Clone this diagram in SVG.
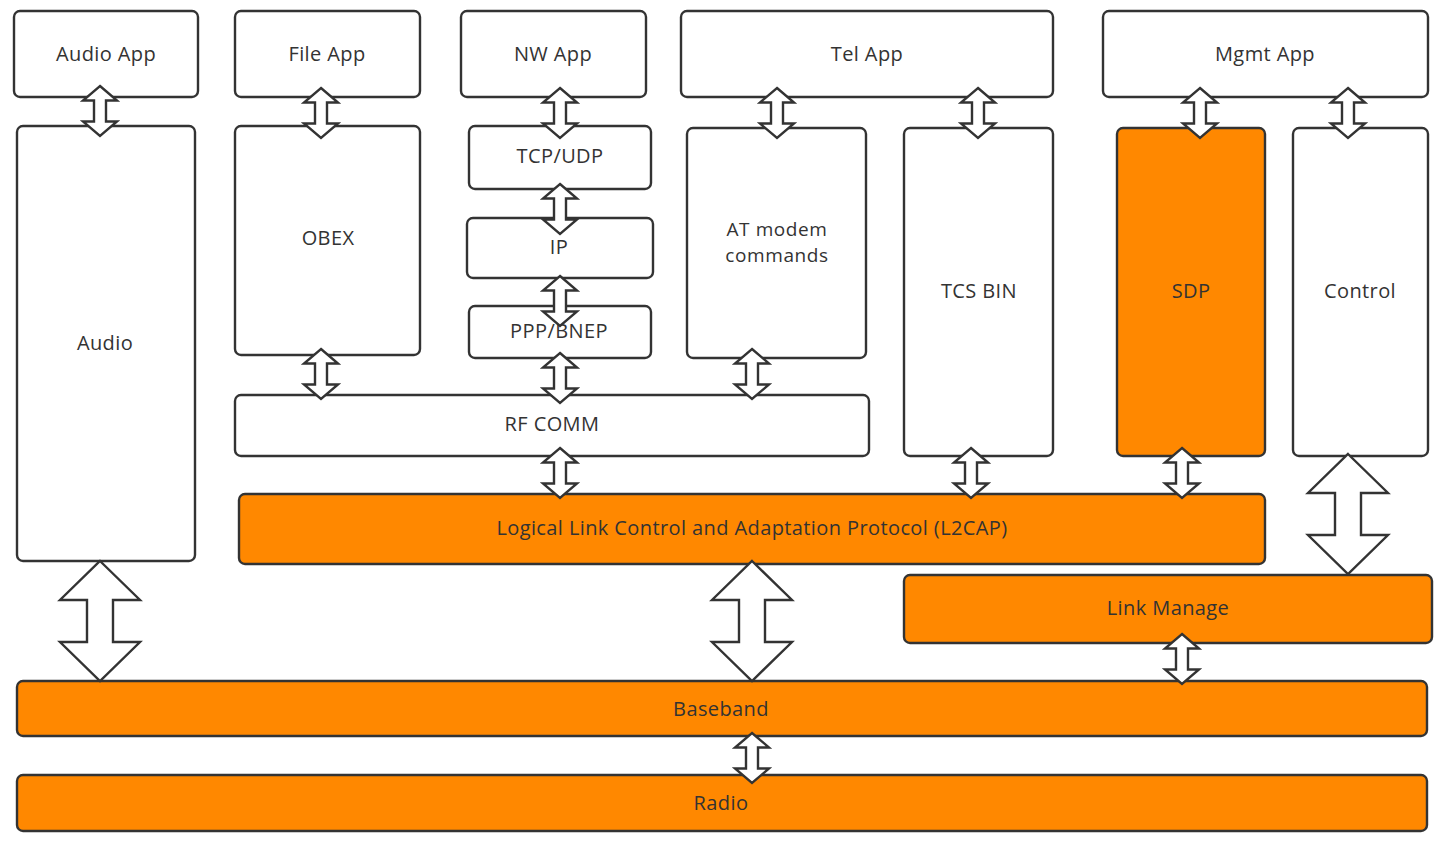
<svg xmlns="http://www.w3.org/2000/svg" width="1450" height="846" viewBox="0 0 1450 846">
<style>
.b{fill:#ffffff;stroke:#333333;stroke-width:2.4}
.o{fill:#ff8800;stroke:#333333;stroke-width:2.4}
text{font-family:"Open Sans","Noto Sans","Liberation Sans",sans-serif;font-size:20px;letter-spacing:0.4px;fill:#333333;text-anchor:middle;dominant-baseline:central}
.a{fill:#ffffff;stroke:#333333;stroke-width:2.4;stroke-linejoin:miter}
</style>
<defs>
<path id="sa" d="M0,0 L17,14.5 L6,14.5 L6,35.5 L17,35.5 L0,50 L-17,35.5 L-6,35.5 L-6,14.5 L-17,14.5 Z"/>
<path id="la" d="M0,0 L40,39 L13,39 L13,81 L40,81 L0,120 L-40,81 L-13,81 L-13,39 L-40,39 Z"/>
</defs>
<rect width="1450" height="846" fill="#ffffff"/>
<g id="audio-app"><rect class="b" x="14" y="11" width="184" height="86" rx="6"/><text x="106" y="53">Audio App</text></g>
<g id="file-app"><rect class="b" x="235" y="11" width="185" height="86" rx="6"/><text x="327" y="53">File App</text></g>
<g id="nw-app"><rect class="b" x="461" y="11" width="185" height="86" rx="6"/><text x="553" y="53">NW App</text></g>
<g id="tel-app"><rect class="b" x="681" y="11" width="372" height="86" rx="6"/><text x="867" y="53">Tel App</text></g>
<g id="mgmt-app"><rect class="b" x="1103" y="11" width="325" height="86" rx="6"/><text x="1265" y="53">Mgmt App</text></g>
<g id="audio"><rect class="b" x="17" y="126" width="178" height="435" rx="6"/><text x="105" y="342">Audio</text></g>
<g id="obex"><rect class="b" x="235" y="126" width="185" height="229" rx="6"/><text x="328" y="237">OBEX</text></g>
<g id="tcp-udp"><rect class="b" x="469" y="126" width="182" height="63" rx="6"/><text x="560" y="155">TCP/UDP</text></g>
<g id="ip"><rect class="b" x="467" y="218" width="186" height="60" rx="6"/><text x="559" y="246">IP</text></g>
<g id="ppp-bnep"><rect class="b" x="469" y="306" width="182" height="52" rx="6"/><text x="559" y="330">PPP/BNEP</text></g>
<g id="at-modem"><rect class="b" x="687" y="128" width="179" height="230" rx="6"/><text x="777" y="229" style="font-size:19px;letter-spacing:0.6px"><tspan x="777" y="229">AT modem</tspan><tspan x="777" y="255">commands</tspan></text></g>
<g id="tcs-bin"><rect class="b" x="904" y="128" width="149" height="328" rx="6"/><text x="979" y="290">TCS BIN</text></g>
<g id="sdp"><rect class="o" x="1117" y="128" width="148" height="328" rx="6"/><text x="1191" y="290">SDP</text></g>
<g id="control"><rect class="b" x="1293" y="128" width="135" height="328" rx="6"/><text x="1360" y="290">Control</text></g>
<g id="rf-comm"><rect class="b" x="235" y="395" width="634" height="61" rx="6"/><text x="552" y="423">RF COMM</text></g>
<g id="l2cap"><rect class="o" x="239" y="494" width="1026" height="70" rx="6"/><text x="752" y="527">Logical Link Control and Adaptation Protocol (L2CAP)</text></g>
<g id="link-manage"><rect class="o" x="904" y="575" width="528" height="68" rx="6"/><text x="1168" y="607">Link Manage</text></g>
<g id="baseband"><rect class="o" x="17" y="681" width="1410" height="55" rx="6"/><text x="721" y="708">Baseband</text></g>
<g id="radio"><rect class="o" x="17" y="775" width="1410" height="56" rx="6"/><text x="721" y="802">Radio</text></g>
<g id="connectors">
<use href="#sa" class="a" x="100" y="86"/>
<use href="#sa" class="a" x="321" y="88"/>
<use href="#sa" class="a" x="560" y="88"/>
<use href="#sa" class="a" x="560" y="184"/>
<use href="#sa" class="a" x="560" y="276"/>
<use href="#sa" class="a" x="560" y="353"/>
<use href="#sa" class="a" x="321" y="349"/>
<use href="#sa" class="a" x="752" y="349"/>
<use href="#sa" class="a" x="777" y="88"/>
<use href="#sa" class="a" x="978" y="88"/>
<use href="#sa" class="a" x="1200" y="88"/>
<use href="#sa" class="a" x="1348" y="88"/>
<use href="#sa" class="a" x="560" y="448"/>
<use href="#sa" class="a" x="971" y="448"/>
<use href="#sa" class="a" x="1182" y="448"/>
<use href="#sa" class="a" x="1182" y="634"/>
<use href="#sa" class="a" x="752" y="733"/>
<use href="#la" class="a" x="1348" y="454"/>
<use href="#la" class="a" x="752" y="561"/>
<use href="#la" class="a" x="100" y="561"/>
</g>
</svg>
